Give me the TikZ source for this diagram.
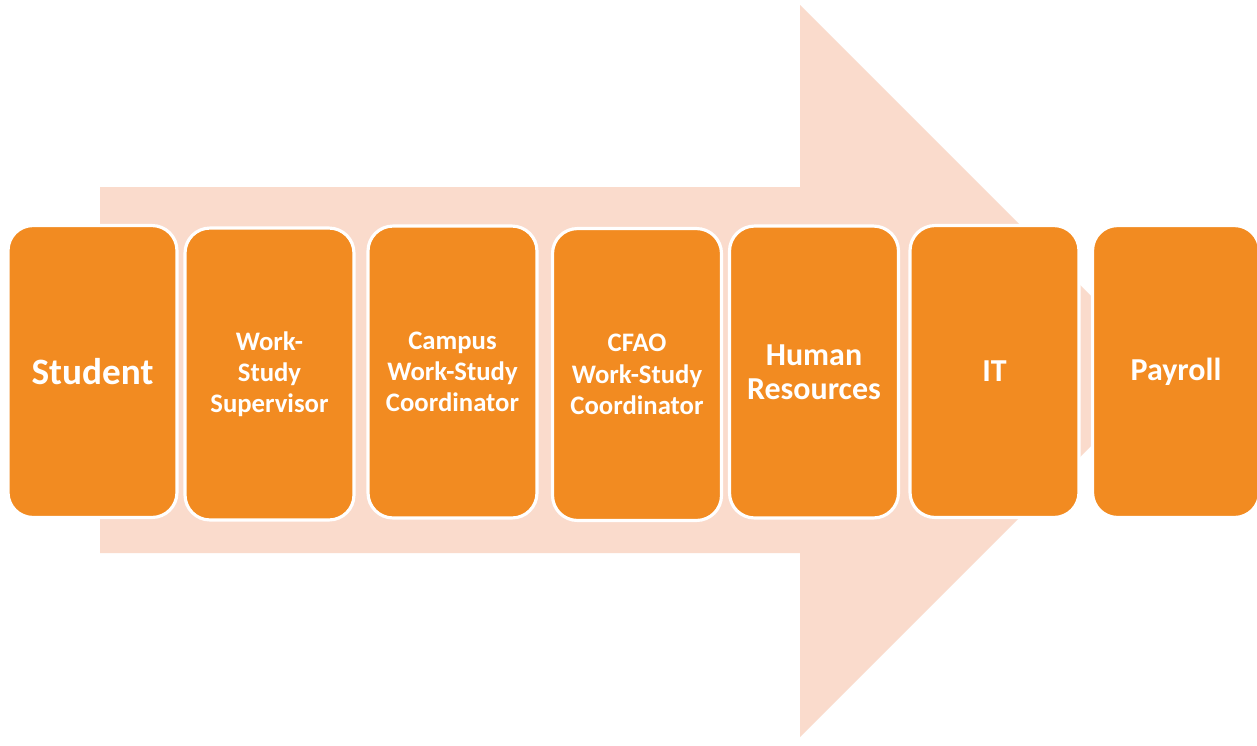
\documentclass[tikz,border=0pt]{standalone}
\usepackage{fontspec}
\setmainfont{Carlito}
\definecolor{peach}{HTML}{FADBCC}
\definecolor{boxorange}{HTML}{F28B21}
\begin{document}
\begin{tikzpicture}[x=0.02cm,y=-0.02cm,
  stage/.style={draw=white, line width=1.8pt, fill=boxorange, rounded corners=0.5cm,
    minimum width=3.38cm, minimum height=5.84cm, text=white, align=center,
    font=\bfseries\fontsize{15.2}{17.8}\selectfont, inner sep=0pt},
  bigtext/.style={font=\bfseries\fontsize{21.2}{25}\selectfont},
  midtext/.style={font=\bfseries\fontsize{18.2}{19.3}\selectfont}]
\useasboundingbox (0,0) rectangle (1257,745);
\fill[white] (0,0) rectangle (1257,745);
% big background arrow
\fill[peach] (100,187) -- (800,187) -- (800,5) -- (1166,371) -- (800,737) -- (800,553) -- (100,553) -- cycle;
% stages
\node[stage, bigtext] (student) at (92.5,371.5) {Student};
\node[stage] (supervisor) at (269.5,374) {Work-\\Study\\Supervisor};
\node[stage] (campus) at (452.5,372) {Campus\\Work-Study\\Coordinator};
\node[stage] (cfao) at (637,374.5) {CFAO\\Work-Study\\Coordinator};
\node[stage, midtext] (hr) at (814,372) {Human\\Resources};
\node[stage, midtext] (it) at (994.5,371.5) {IT};
\node[stage, midtext, minimum width=3.34cm] (payroll) at (1176,371.5) {Payroll};
\end{tikzpicture}
\end{document}
